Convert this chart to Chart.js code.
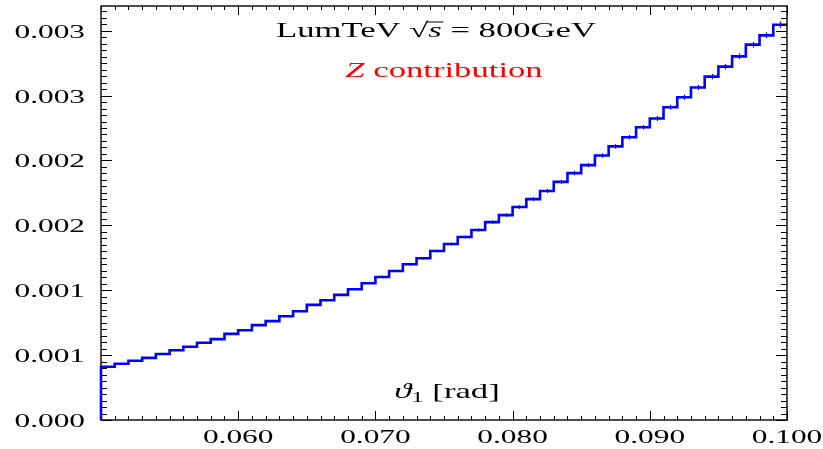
<!DOCTYPE html>
<html>
<head>
<meta charset="utf-8">
<script src="https://cdn.jsdelivr.net/npm/chart.js@4.4.1/dist/chart.umd.min.js"></script>
<style>
  html, body { margin: 0; padding: 0; background: #fff; }
  #histo { display: block; }
</style>
</head>
<body>
<canvas id="histo" width="823" height="449"></canvas>
<script>
// bin lower edges (rad), bin width 0.001
const binLow = [
  0.050, 0.051, 0.052, 0.053, 0.054, 0.055, 0.056, 0.057, 0.058, 0.059,
  0.060, 0.061, 0.062, 0.063, 0.064, 0.065, 0.066, 0.067, 0.068, 0.069,
  0.070, 0.071, 0.072, 0.073, 0.074, 0.075, 0.076, 0.077, 0.078, 0.079,
  0.080, 0.081, 0.082, 0.083, 0.084, 0.085, 0.086, 0.087, 0.088, 0.089,
  0.090, 0.091, 0.092, 0.093, 0.094, 0.095, 0.096, 0.097, 0.098, 0.099,
];
const lastEdge = 0.100;

const binValues = [
  0.000410, 0.000433, 0.000456, 0.000479, 0.000508, 0.000538, 0.000564, 0.000595, 0.000623, 0.000664,
  0.000692, 0.000731, 0.000762, 0.000800, 0.000838, 0.000887, 0.000923, 0.000964, 0.001008, 0.001054,
  0.001102, 0.001148, 0.001200, 0.001246, 0.001302, 0.001356, 0.001410, 0.001464, 0.001525, 0.001579,
  0.001641, 0.001702, 0.001765, 0.001835, 0.001902, 0.001964, 0.002038, 0.002108, 0.002179, 0.002256,
  0.002323, 0.002410, 0.002487, 0.002562, 0.002646, 0.002723, 0.002802, 0.002892, 0.002964, 0.003046,
];

const binErrors = [
  0.000005, 0.000005, 0.000005, 0.000005, 0.000005, 0.000006, 0.000006, 0.000006, 0.000006, 0.000006,
  0.000007, 0.000007, 0.000007, 0.000007, 0.000007, 0.000008, 0.000008, 0.000008, 0.000008, 0.000008,
  0.000009, 0.000009, 0.000010, 0.000010, 0.000010, 0.000011, 0.000011, 0.000012, 0.000012, 0.000013,
  0.000014, 0.000014, 0.000015, 0.000015, 0.000016, 0.000016, 0.000017, 0.000017, 0.000018, 0.000018,
  0.000019, 0.000019, 0.000020, 0.000020, 0.000021, 0.000021, 0.000022, 0.000022, 0.000023, 0.000024,
];

const xTicks = [0.060, 0.070, 0.080, 0.090, 0.100];
const xTickLabels = ['0.060', '0.070', '0.080', '0.090', '0.100'];
const yTicks = [0.0000, 0.0005, 0.0010, 0.0015, 0.0020, 0.0025, 0.0030];
const yTickLabels = ['0.000', '0.001', '0.001', '0.002', '0.002', '0.003', '0.003'];
const xMinorStep = 0.001;
const yMinorStep = 0.00005;

const xMin = 0.050, xMax = 0.100;
const yMin = 0, yMax = 0.00319;

// step outline: rise from zero on the left edge, hold each bin's level across it
const points = [{ x: binLow[0], y: 0 }];
binLow.forEach((x, i) => points.push({ x, y: binValues[i] }));
points.push({ x: lastEdge, y: binValues[binValues.length - 1] });

const SERIF = '"Liberation Serif", "DejaVu Serif", serif';
const SX = 1.65; // the original lettering is wide

function runsWidth(ctx, runs) {
  let w = 0;
  runs.forEach(r => { ctx.font = r.font; w += ctx.measureText(r.t).width; });
  return w;
}

// draw a list of text runs centred on cx, stretched horizontally
function drawRuns(ctx, runs, cx, baseY, color) {
  ctx.save();
  const w = runsWidth(ctx, runs);
  ctx.translate(cx, baseY);
  ctx.scale(SX, 1);
  ctx.fillStyle = color;
  ctx.strokeStyle = color;
  ctx.textAlign = 'left';
  ctx.textBaseline = 'alphabetic';
  let x = -w / 2;
  runs.forEach(r => {
    ctx.font = r.font;
    const rw = ctx.measureText(r.t).width;
    ctx.fillText(r.t, x, r.dy || 0);
    if (r.over) {
      ctx.lineWidth = 1;
      ctx.beginPath();
      ctx.moveTo(x - 1, r.over);
      ctx.lineTo(x + rw + 1, r.over);
      ctx.stroke();
    }
    x += rw;
  });
  ctx.restore();
}

function stretchedText(ctx, text, x, y, align) {
  ctx.save();
  ctx.translate(x, y);
  ctx.scale(SX, 1);
  ctx.textAlign = align;
  ctx.fillText(text, 0, 0);
  ctx.restore();
}

const framePlugin = {
  id: 'frame',
  beforeDatasetsDraw(chart) {
    const { ctx, chartArea: a } = chart;
    ctx.save();
    ctx.strokeStyle = '#000';
    ctx.lineWidth = 1.4;
    ctx.strokeRect(a.left, a.top, a.right - a.left, a.bottom - a.top);
    ctx.restore();
  },
  afterDatasetsDraw(chart) {
    const { ctx, chartArea: a, scales: { x, y } } = chart;
    ctx.save();

    // error bars at bin centres
    ctx.strokeStyle = '#0000ff';
    ctx.lineWidth = 1.2;
    binLow.forEach((lo, i) => {
      const px = Math.round(x.getPixelForValue(lo + 0.0005)) + 0.5;
      ctx.beginPath();
      ctx.moveTo(px, y.getPixelForValue(binValues[i] - binErrors[i]));
      ctx.lineTo(px, y.getPixelForValue(binValues[i] + binErrors[i]));
      ctx.stroke();
    });

    // inward ticks on all four sides
    ctx.strokeStyle = '#000';
    ctx.lineWidth = 1;
    ctx.beginPath();
    for (let v = xMin; v <= xMax + 1e-9; v += xMinorStep) {
      const px = Math.round(x.getPixelForValue(v)) + 0.5;
      const major = xTicks.some(t => Math.abs(t - v) < 1e-7);
      const len = major ? 9 : 4;
      ctx.moveTo(px, a.bottom); ctx.lineTo(px, a.bottom - len);
      ctx.moveTo(px, a.top); ctx.lineTo(px, a.top + len);
    }
    for (let v = yMin; v <= yMax + 1e-9; v += yMinorStep) {
      const py = Math.round(y.getPixelForValue(v)) + 0.5;
      const major = yTicks.some(t => Math.abs(t - v) < 1e-8);
      const len = major ? 11 : 6;
      ctx.moveTo(a.left, py); ctx.lineTo(a.left + len, py);
      ctx.moveTo(a.right, py); ctx.lineTo(a.right - len, py);
    }
    ctx.stroke();

    // tick labels
    ctx.fillStyle = '#000';
    ctx.font = '19px ' + SERIF;
    ctx.textBaseline = 'alphabetic';
    yTicks.forEach((v, i) => {
      stretchedText(ctx, yTickLabels[i], a.left - 16, y.getPixelForValue(v) + 7, 'right');
    });
    xTicks.forEach((v, i) => {
      stretchedText(ctx, xTickLabels[i], x.getPixelForValue(v), a.bottom + 23, 'center');
    });

    // annotations
    const roman = '21px ' + SERIF;
    const italic = 'italic 21px ' + SERIF;
    drawRuns(ctx, [
      { t: 'LumTeV ', font: roman },
      { t: '\u221A', font: roman },
      { t: 's', font: italic, over: -15 },
      { t: ' = 800GeV', font: roman },
    ], 436, 37, '#000');
    drawRuns(ctx, [
      { t: 'Z', font: italic },
      { t: ' contribution', font: roman },
    ], 444, 77, '#ff0000');
    drawRuns(ctx, [
      { t: '\u03D1', font: 'italic 21px ' + SERIF },
      { t: '1', font: '15px ' + SERIF, dy: 4 },
      { t: ' [rad]', font: '21px ' + SERIF },
    ], 447, 398, '#000');

    ctx.restore();
  },
};

new Chart(document.getElementById('histo'), {
  type: 'line',
  data: {
    datasets: [{
      data: points,
      stepped: 'before',
      borderColor: '#0000ff',
      borderWidth: 2.6,
      pointRadius: 0,
      fill: false,
      clip: { left: 3, top: 0, right: 0, bottom: 0 },
    }],
  },
  options: {
    responsive: false,
    animation: false,
    devicePixelRatio: 1,
    layout: { padding: { left: 101, right: 36, top: 6, bottom: 29 } },
    plugins: { legend: { display: false }, tooltip: { enabled: false } },
    scales: {
      x: { type: 'linear', min: xMin, max: xMax, display: false },
      y: { type: 'linear', min: yMin, max: yMax, display: false },
    },
  },
  plugins: [framePlugin],
});
</script>
</body>
</html>
